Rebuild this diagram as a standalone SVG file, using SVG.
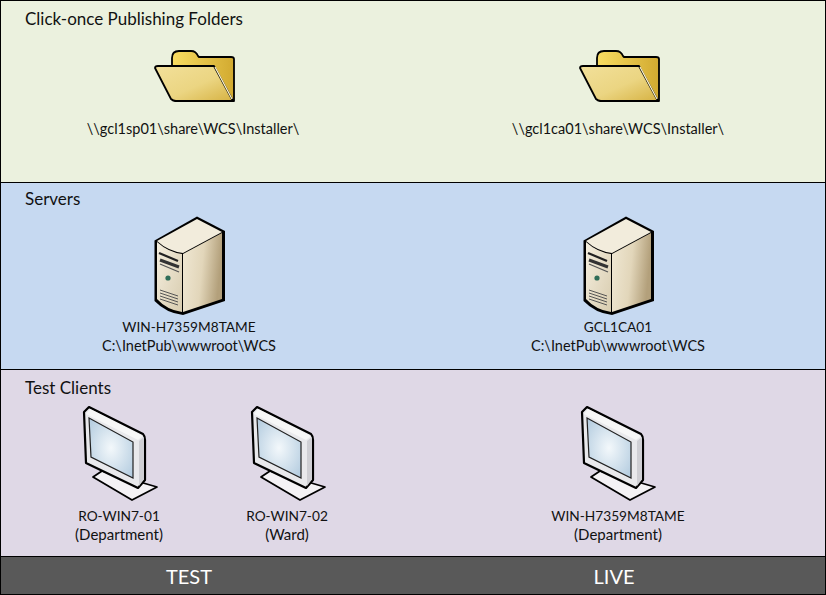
<svg xmlns="http://www.w3.org/2000/svg" width="826" height="595" viewBox="0 0 826 595">
<style>
text{font-family:"Lato","Carlito","Open Sans",sans-serif;font-size:14.5px;fill:#111}
.m{text-anchor:middle}
.c{font-size:13.7px}
.p{font-size:15px}
.h{font-size:17px}
.f{font-size:20px;fill:#fff;text-anchor:middle}
</style>
<defs>
<linearGradient id="fb" x1="0" y1="0" x2="1" y2="0"><stop offset="0" stop-color="#f8dc62"/><stop offset="1" stop-color="#d2aa30"/></linearGradient>
<linearGradient id="ff" x1="0" y1="0" x2="1" y2="1"><stop offset="0" stop-color="#f2e09a"/><stop offset=".55" stop-color="#ebd582"/><stop offset="1" stop-color="#d6b242"/></linearGradient>
<linearGradient id="sr" x1="0" y1="0" x2="1" y2="0.2"><stop offset="0" stop-color="#f0e8d4"/><stop offset=".55" stop-color="#e2d6ba"/><stop offset="1" stop-color="#b3a07b"/></linearGradient>
<linearGradient id="sf" x1="0" y1="0" x2="1" y2="1"><stop offset="0" stop-color="#f5efdf"/><stop offset="1" stop-color="#d8ccaf"/></linearGradient>
<radialGradient id="sc" cx=".5" cy=".5" r=".65"><stop offset="0" stop-color="#f3f8fb"/><stop offset="1" stop-color="#b5cde0"/></radialGradient>
<symbol id="folder" overflow="visible">
<path d="M172 66V58Q172 51 179 51H191Q196 51 198 56L199 57H231Q234 57 234 59V101H175Z" fill="url(#fb)" stroke="#000" stroke-width="1.8" stroke-linejoin="round"/>
<path d="M155 68Q155 66 158 66H214L233 101H176Q173 101 171 99Z" fill="url(#ff)" stroke="#000" stroke-width="1.8" stroke-linejoin="round"/>
<path d="M215 67L232 99" stroke="#fff6d0" stroke-width="1.3" fill="none"/>
</symbol>
<symbol id="server" overflow="visible">
<path d="M154.500 240.500L197 216.500L225 231V301L183 315Q166 313 154.500 301Z" fill="#000"/>
<path d="M157 241L197 219L222 232L183 253Q168 251 157 241Z" fill="#f2ecdc"/>
<path d="M183 254L222 233V299L183 312Z" fill="url(#sr)"/>
<path d="M157 242Q168 252 182 254V312Q167 310 157 299Z" fill="url(#sf)"/>
<path d="M159 253L178 261" stroke="#222" stroke-width="2.2"/>
<path d="M160 260L179 267" stroke="#333" stroke-width="3"/>
<path d="M160 264L179 272" stroke="#555" stroke-width="1.2"/>
<circle cx="168" cy="278" r="2.6" fill="#2f6d58"/>
<path d="M160 290L178 296M160 293L178 299M160 296L178 302M160 299L178 305" stroke="#555" stroke-width="1"/>
</symbol>
<symbol id="monitor" overflow="visible">
<path d="M102 471L157 487L132 500L93 477Z" fill="#f4f2f5" stroke="#000" stroke-width="1.8" stroke-linejoin="round"/>
<path d="M84 412L89 407L143 434Q145 436 145 440V480L138 488L86 463Z" fill="#e9e9ec" stroke="#000" stroke-width="2.2" stroke-linejoin="round"/>
<path d="M90 409L143 436L138 440L86 414Z" fill="#f7f7f7"/>
<path d="M139 441L144 437V479L139 486Z" fill="#cfcfd4"/>
<path d="M89 418L133 442V478L91 457Z" fill="url(#sc)" stroke="#222" stroke-width="1.2"/>
</symbol>
</defs>
<g id="bands">
<rect x="0.500" y="0.500" width="825" height="182" fill="#ebf1de" stroke="#000"/>
<rect x="0.500" y="182.500" width="825" height="187" fill="#c6d9f1" stroke="#000"/>
<rect x="0.500" y="369.500" width="825" height="187" fill="#dfd8e6" stroke="#000"/>
<rect x="0.500" y="556.500" width="825" height="38" fill="#595959" stroke="#000"/>
</g>
<g id="connectors"></g>
<g id="band-labels">
<text x="25" y="25" class="h">Click-once Publishing Folders</text>
<text x="25" y="205" class="h">Servers</text>
<text x="25" y="394" class="h">Test Clients</text>
<text x="189" y="584" class="f">TEST</text>
<text x="614" y="584" class="f">LIVE</text>
</g>
<g id="folder-test"><use href="#folder"/><text x="193" y="134" class="m">\\gcl1sp01\share\WCS\Installer\</text></g>
<g id="folder-live"><use href="#folder" x="425"/><text x="618" y="134" class="m">\\gcl1ca01\share\WCS\Installer\</text></g>
<g id="server-test"><use href="#server"/><text x="189" y="332" class="m c">WIN-H7359M8TAME</text><text x="189" y="351" class="m">C:\InetPub\wwwroot\WCS</text></g>
<g id="server-live"><use href="#server" x="429"/><text x="618" y="332" class="m c">GCL1CA01</text><text x="618" y="351" class="m">C:\InetPub\wwwroot\WCS</text></g>
<g id="client-1"><use href="#monitor"/><text x="119" y="521" class="m c">RO-WIN7-01</text><text x="119" y="540" class="m p">(Department)</text></g>
<g id="client-2"><use href="#monitor" x="168"/><text x="287" y="521" class="m c">RO-WIN7-02</text><text x="287" y="540" class="m p">(Ward)</text></g>
<g id="client-3"><use href="#monitor" x="498"/><text x="618" y="521" class="m c">WIN-H7359M8TAME</text><text x="618" y="540" class="m p">(Department)</text></g>
</svg>
